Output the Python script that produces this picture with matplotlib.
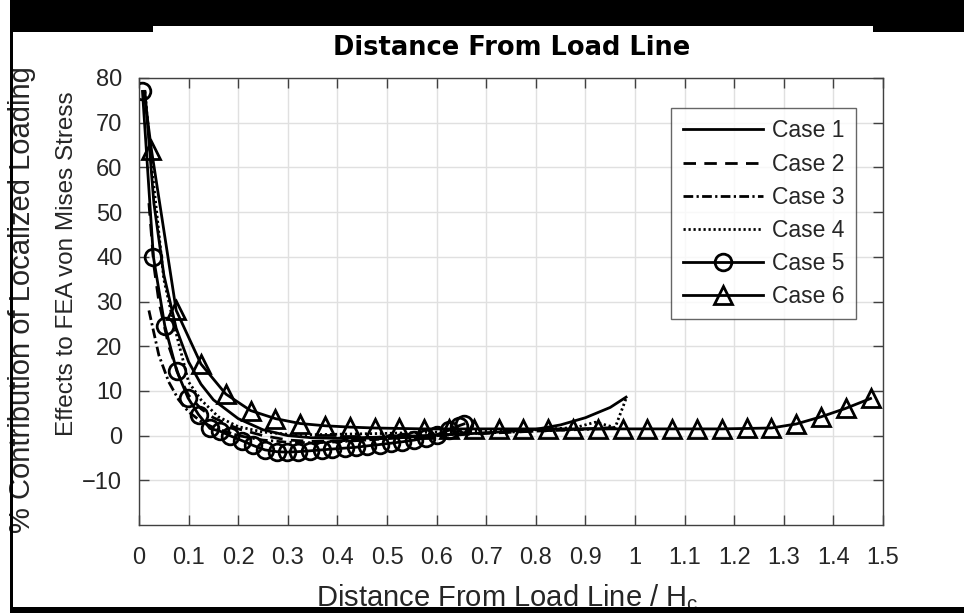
import matplotlib
matplotlib.use("Agg")
import matplotlib.pyplot as plt
from matplotlib.patches import Rectangle

# ---------------- data ----------------
case1_x = [0.012, 0.03, 0.05, 0.075, 0.1, 0.125, 0.15, 0.2, 0.25, 0.3, 0.35, 0.4, 0.5, 0.6, 0.7, 0.8, 0.85, 0.9, 0.95, 0.982]
case1_y = [77, 52, 36, 24, 16.5, 11.5, 8, 3.8, 1.3, 0.0, -0.5, -0.6, -0.3, 0.1, 0.6, 1.4, 2.4, 4.0, 6.3, 8.6]

case2_x = [0.02, 0.03, 0.04, 0.06, 0.08, 0.1, 0.125, 0.15, 0.2, 0.25, 0.3, 0.35, 0.4, 0.5, 0.6, 0.7, 0.8, 0.9, 0.96]
case2_y = [52, 38, 30, 20, 13.5, 9, 6, 4, 1.5, 0.0, -1.0, -1.3, -1.2, -0.6, 0.0, 0.5, 1.0, 1.5, 1.8]

case3_x = [0.02, 0.04, 0.06, 0.08, 0.1, 0.125, 0.15, 0.2, 0.25, 0.3, 0.35, 0.4, 0.5, 0.6, 0.7, 0.8, 0.9, 0.96]
case3_y = [28, 18, 12, 8, 5.3, 3.2, 1.8, 0.0, -1.0, -1.5, -1.6, -1.4, -0.7, 0.1, 0.6, 1.0, 1.4, 1.6]

case4_x = [0.012, 0.025, 0.05, 0.07, 0.1, 0.125, 0.16, 0.2, 0.25, 0.3, 0.35, 0.4, 0.5, 0.6, 0.7, 0.8, 0.88, 0.92, 0.96, 0.982]
case4_y = [77, 61, 35, 25, 12, 8, 4.2, 2.0, 0.8, 0.3, 0.2, 0.3, 0.5, 0.8, 1.0, 1.3, 1.8, 3.0, 1.8, 8.3]

case5_x = [0.007, 0.029, 0.052, 0.076, 0.099, 0.12, 0.143, 0.163, 0.183, 0.207, 0.23, 0.254, 0.278,
           0.298, 0.32, 0.345, 0.368, 0.39, 0.415, 0.438, 0.46, 0.485, 0.508, 0.53, 0.555, 0.578,
           0.6, 0.625, 0.645, 0.655]
case5_y = [77, 40, 24.6, 14.5, 8.4, 4.7, 1.6, 1.0, 0.0, -1.1, -2.2, -3.2, -3.6,
           -3.7, -3.6, -3.4, -3.2, -3.0, -2.8, -2.6, -2.3, -2.0, -1.7, -1.4, -1.0, -0.5,
           0.2, 1.2, 2.2, 2.6]

case6_x = [0.01, 0.025, 0.075, 0.125, 0.175, 0.225, 0.275, 0.325, 0.375, 0.425, 0.475, 0.525,
           0.575, 0.625, 0.675, 0.725, 0.775, 0.825, 0.875, 0.925, 0.975, 1.025, 1.075, 1.125,
           1.175, 1.225, 1.275, 1.325, 1.375, 1.425, 1.475]
case6_y = [77, 64, 28, 16, 9.3, 5.6, 3.8, 2.7, 2.2, 1.9, 1.7, 1.6,
           1.5, 1.5, 1.5, 1.5, 1.5, 1.5, 1.5, 1.5, 1.5, 1.5, 1.5, 1.5,
           1.5, 1.6, 1.7, 2.6, 4.2, 6.1, 8.3]

labels = ["Case 1", "Case 2", "Case 3", "Case 4", "Case 5", "Case 6"]
x_ticks = [0, 0.1, 0.2, 0.3, 0.4, 0.5, 0.6, 0.7, 0.8, 0.9, 1, 1.1, 1.2, 1.3, 1.4, 1.5]
x_ticklabels = ["0", "0.1", "0.2", "0.3", "0.4", "0.5", "0.6", "0.7", "0.8", "0.9", "1",
                "1.1", "1.2", "1.3", "1.4", "1.5"]
y_ticks = [-10, 0, 10, 20, 30, 40, 50, 60, 70, 80]

# ---------------- figure ----------------
W, H = 964, 613
plt.rcParams['font.family'] = ['Liberation Sans', 'DejaVu Sans']
plt.rcParams['mathtext.fontset'] = 'custom'
plt.rcParams['mathtext.rm'] = 'Liberation Sans'
fig = plt.figure(figsize=(W / 100, H / 100), dpi=100)
L, R, T, B = 139, 883, 78, 525
ax = fig.add_axes([L / W, 1 - B / H, (R - L) / W, (B - T) / H])

lw = 2.0
k = dict(color='black', lw=lw)
ax.plot(case1_x, case1_y, '-', label=labels[0], **k)
ax.plot(case2_x, case2_y, '--', dashes=(4.5, 3), label=labels[1], **k)
ax.plot(case3_x, case3_y, '-.', dashes=(3.5, 1.2, 0.8, 1.2), label=labels[2], **k)
ax.plot(case4_x, case4_y, ':', dashes=(0.8, 1.0), label=labels[3], **k)
ax.plot(case5_x, case5_y, '-', marker='o', ms=12, mfc='none', mec='black', mew=2.0,
        label=labels[4], **k)
ax.plot(case6_x, case6_y, '-', marker='^', ms=13, mfc='none', mec='black', mew=2.0,
        markevery=list(range(1, len(case6_x))), label=labels[5], **k)

ax.set_xlim(0, 1.5)
ax.set_ylim(-20, 80)
ax.set_xticks(x_ticks)
ax.set_xticklabels(x_ticklabels)
ax.set_yticks(y_ticks)
ax.tick_params(direction='in', length=7, width=1, color='#404040', top=True, right=True,
               labelsize=17, labelcolor='#262626', pad=12)
ax.tick_params(axis='x', pad=16)
for s in ax.spines.values():
    s.set_color('#404040')
    s.set_linewidth(1)
ax.grid(True, color='#e0e0e0', lw=1)
ax.set_axisbelow(True)

leg = ax.legend(loc='upper right', bbox_to_anchor=((856 - L) / (R - L), 1 - (108 - T) / (B - T)),
                fontsize=16.5, frameon=True, fancybox=False, handlelength=3.5,
                labelspacing=0.44, borderpad=0.5, handletextpad=0.4, borderaxespad=0)
leg.get_frame().set_edgecolor('#404040')
leg.get_frame().set_linewidth(1)
for t in leg.get_texts():
    t.set_color('#262626')

fig.text(512 / W, 1 - 48 / H, "Distance From Load Line", family='DejaVu Sans', weight='bold',
         fontsize=18.5, ha='center', va='center')
fig.text(507 / W, 1 - 598 / H, r"Distance From Load Line / H$_\mathregular{c}$", fontsize=21,
         ha='center', va='center', color='#262626')
fig.text(22 / W, 1 - 300 / H, "% Contribution of Localized Loading", fontsize=21,
         rotation=90, ha='center', va='center', color='#262626')
fig.text(67 / W, 1 - 264 / H, "Effects to FEA von Mises Stress", fontsize=17.5,
         rotation=90, ha='center', va='center', color='#262626')

# black scan frame
def blk(x0, y0, x1, y1):
    fig.add_artist(Rectangle((x0 / W, 1 - y1 / H), (x1 - x0) / W, (y1 - y0) / H,
                             transform=fig.transFigure, color='black', zorder=20, lw=0))

blk(10, 0, W, 26)
blk(10, 26, 153, 32)
blk(873, 26, W, 32)
blk(10, 0, 13, H)
blk(10, 607, W, H)

fig.savefig("out.png", dpi=100)
